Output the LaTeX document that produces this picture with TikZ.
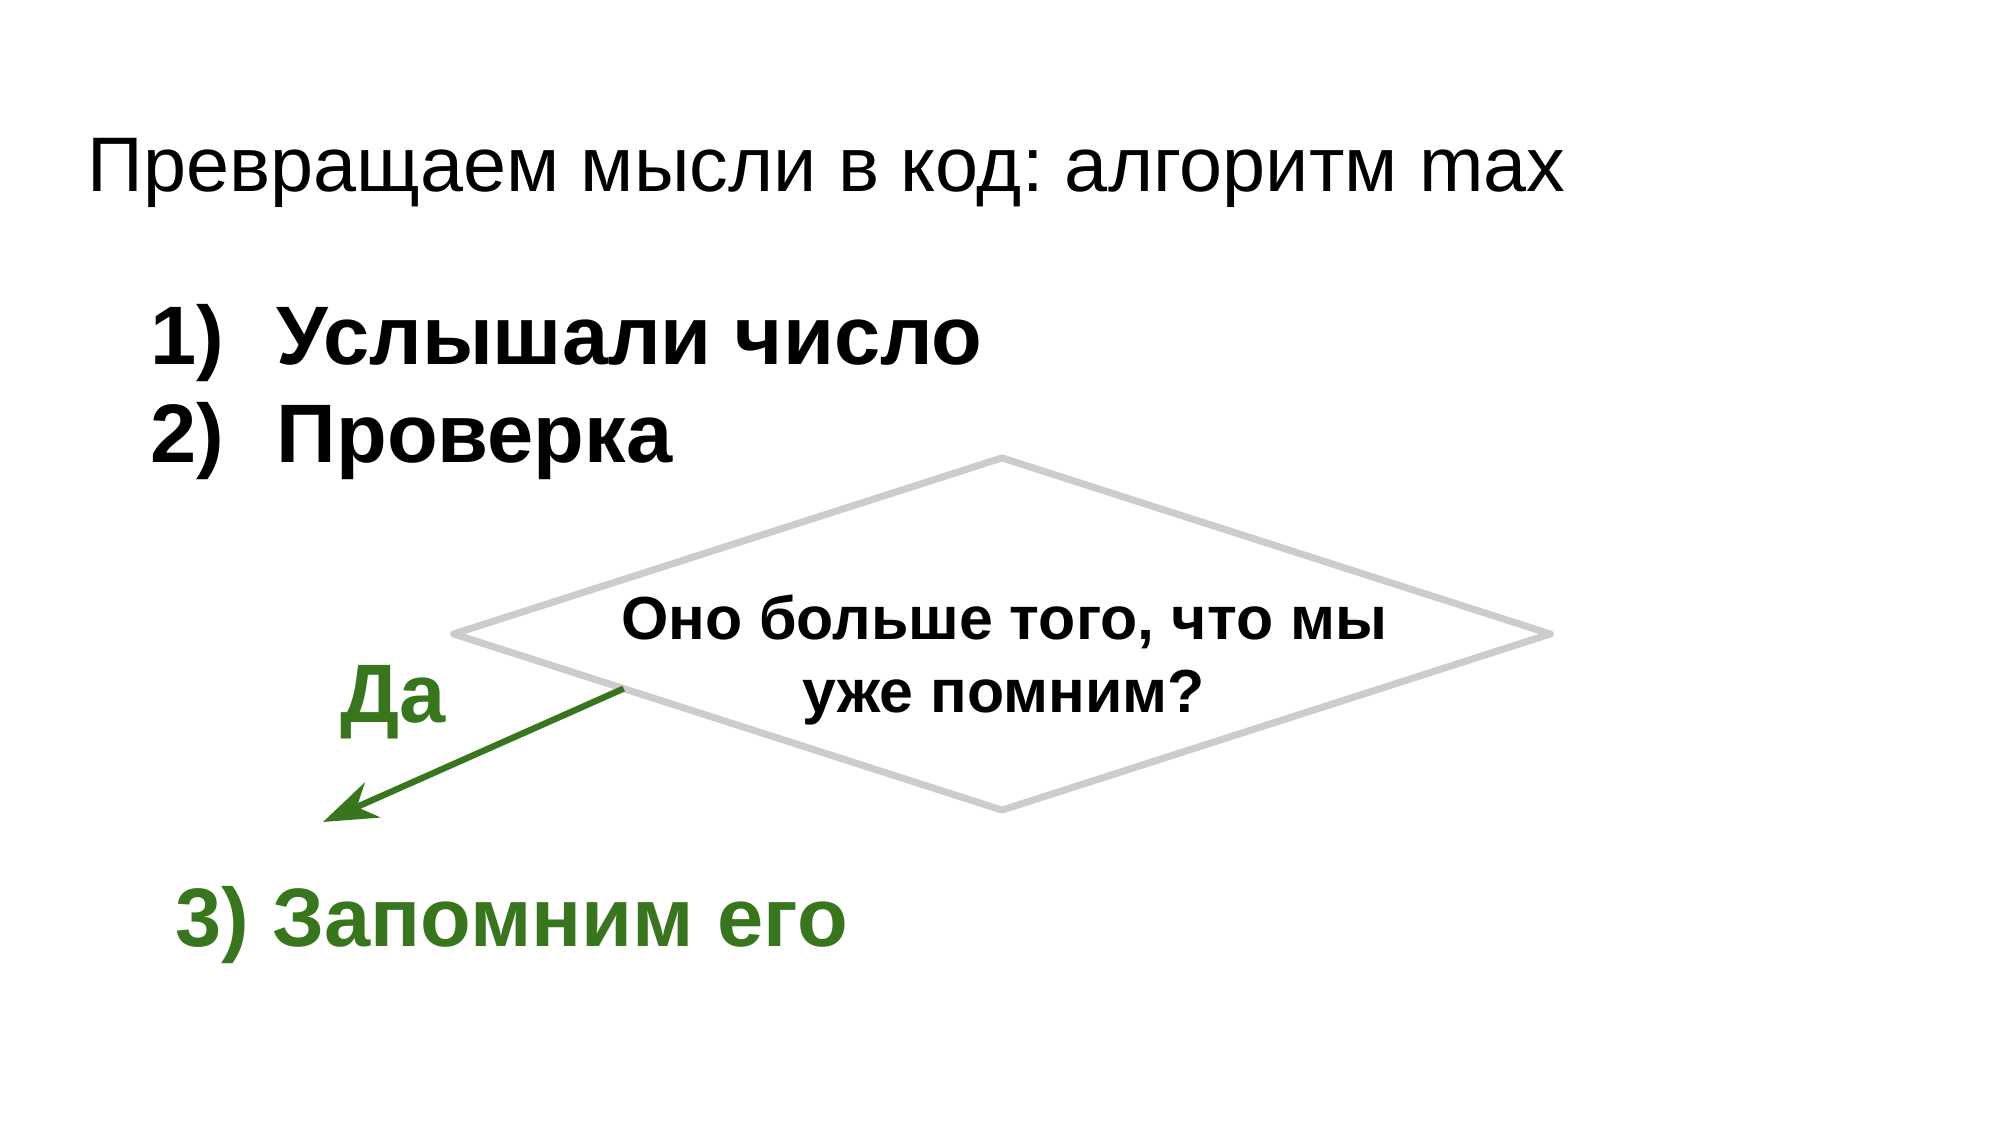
\documentclass[tikz,border=0pt]{standalone}
\usepackage{fontspec}
\setmainfont{Liberation Sans}
\usetikzlibrary{arrows.meta,calc,shapes.geometric}
\definecolor{slidegreen}{HTML}{38761D}
\definecolor{slidegrey}{HTML}{CCCCCC}
\frenchspacing
\tikzset{
	itemtext/.style={anchor=base west, inner sep=0, font=\fontsize{23.6}{28}\selectfont\bfseries},
	greentext/.style={itemtext, text=slidegreen},
	yesarrow/.style={draw=slidegreen, line width=1.8pt, -{Stealth[length=5.4mm, width=3.8mm, inset=1.7mm]}}
}

\begin{document}
\begin{tikzpicture}[x=0.01cm, y=-0.01cm]
		%%%%% START %%%%%
		\useasboundingbox[fill=white] (0, 0) rectangle (2000, 1125);
		
		\node[anchor=base west, inner sep=0, font=\fontsize{22}{27}\selectfont] (title) at (87, 192) {Превращаем мысли в код: алгоритм max};
		
		\node[itemtext] (num1) at (150, 365) {1)};
		\node[itemtext] (item1) at (276, 365) {Услышали число};
		\node[itemtext] (num2) at (150, 463) {2)};
		\node[itemtext] (item2) at (276, 463) {Проверка};
		
		\node[diamond, draw=slidegrey, line width=2pt, line join=round, minimum width=10.96cm, minimum height=3.52cm, inner sep=0, outer sep=0] (check) at (1002, 634) {};
		\node[anchor=base, inner sep=0, align=center, font=\fontsize{17.3}{20.5}\selectfont\bfseries] (question) at (1004, 712) {Оно больше того, что мы\\уже помним?};
		
		\coordinate (from) at ($(check.west)!0.31!(check.south)$);
		\coordinate (yes) at (323, 822);
		\draw[yesarrow] (from) -- (yes);
		\node[greentext] (yeslabel) at (340, 722) {Да};
		
		\node[greentext] (item3) at (175, 946) {3) Запомним его};
		
		%%%%% END %%%%%
	\end{tikzpicture}
\end{document}
